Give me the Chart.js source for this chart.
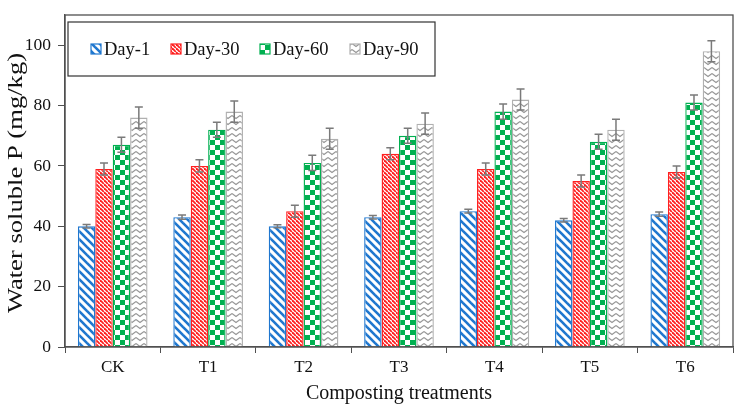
<!DOCTYPE html>
<html lang="en">
<head>
<meta charset="UTF-8" />
<title>Water soluble P</title>
<script src="https://cdn.jsdelivr.net/npm/chart.js"></script>
<style>
  body { margin: 0; background: #ffffff; }
  #wrap { width: 747px; height: 415px; }
</style>
</head>
<body>
<div id="wrap"><canvas id="chart" width="747" height="415"></canvas></div>
<script>
const treatments = ['CK', 'T1', 'T2', 'T3', 'T4', 'T5', 'T6'];
const seriesNames = ['Day-1', 'Day-30', 'Day-60', 'Day-90'];
const day1 = [40, 43, 40, 43, 45, 42, 44];
const day30 = [59, 60, 45, 64, 59, 55, 58];
const day60 = [67, 72, 61, 70, 78, 68, 81];
const day90 = [76, 78, 69, 74, 82, 72, 98];
const day1Err = [0.6, 0.7, 0.5, 0.6, 0.6, 0.6, 0.7];
const day30Err = [2, 2, 2, 2, 2, 2, 2];
const day60Err = [2.5, 2.5, 2.5, 2.5, 2.5, 2.5, 2.5];
const day90Err = [3.5, 3.5, 3.5, 3.5, 3.5, 3.5, 3.5];
const yTicks = [0, 20, 40, 60, 80, 100];
const yTitle = 'Water soluble P (mg/kg)';

const serif = '"Liberation Serif", "Times New Roman", serif';

// fill patterns
function makeTile(w, h, draw) {
  const c = document.createElement('canvas');
  c.width = w; c.height = h;
  const g = c.getContext('2d');
  g.fillStyle = '#fff';
  g.fillRect(0, 0, w, h);
  draw(g);
  return document.getElementById('chart').getContext('2d').createPattern(c, 'repeat');
}
function stripes(color, p, lw) {
  return makeTile(p, p, g => {
    g.strokeStyle = color;
    g.lineWidth = lw;
    for (let x0 = -p; x0 <= p; x0 += p) {
      g.beginPath();
      g.moveTo(x0 - 1, -1);
      g.lineTo(x0 + p + 1, p + 1);
      g.stroke();
    }
  });
}
function checker(color, s) {
  return makeTile(s * 2, s * 2, g => {
    g.fillStyle = color;
    g.fillRect(0, 0, s, s);
    g.fillRect(s, s, s, s);
  });
}
function zigzag(color) {
  return makeTile(8, 6, g => {
    g.strokeStyle = color;
    g.lineWidth = 1.1;
    g.beginPath();
    g.moveTo(0, 1.5);
    g.lineTo(4, 4.5);
    g.lineTo(8, 1.5);
    g.stroke();
  });
}

const colors = ['#1f77cf', '#ff2020', '#00b050', '#b0b0b0'];
const fills = [
  stripes('#1f77cf', 8, 2.6),
  stripes('#ff2020', 4.5, 1.8),
  checker('#00b050', 5),
  zigzag('#969696')
];
const values = [day1, day30, day60, day90];
const errors = [day1Err, day30Err, day60Err, day90Err];

const errorBars = {
  id: 'errorBars',
  afterDatasetsDraw(chart) {
    const ctx = chart.ctx;
    const y = chart.scales.y;
    ctx.save();
    ctx.strokeStyle = '#7a7a7a';
    ctx.lineWidth = 1.5;
    chart.data.datasets.forEach((ds, i) => {
      chart.getDatasetMeta(i).data.forEach((bar, j) => {
        const v = ds.data[j], e = errors[i][j];
        const top = y.getPixelForValue(v + e);
        const bot = y.getPixelForValue(v - e);
        ctx.beginPath();
        ctx.moveTo(bar.x, top); ctx.lineTo(bar.x, bot);
        ctx.moveTo(bar.x - 4, top); ctx.lineTo(bar.x + 4, top);
        ctx.moveTo(bar.x - 4, bot); ctx.lineTo(bar.x + 4, bot);
        ctx.stroke();
      });
    });
    ctx.restore();
  }
};

const frameAndLegend = {
  id: 'frameAndLegend',
  afterDraw(chart) {
    const ctx = chart.ctx;
    const a = chart.chartArea;
    ctx.save();
    ctx.strokeStyle = '#505050';
    ctx.lineWidth = 1.3;
    ctx.strokeRect(a.left, a.top, a.right - a.left, a.bottom - a.top);

    // legend box
    const lx = a.left + 3, ly = a.top + 7;
    ctx.strokeStyle = '#333';
    ctx.lineWidth = 1.2;
    ctx.fillStyle = '#fff';
    ctx.fillRect(lx, ly, 367, 54);
    ctx.strokeRect(lx, ly, 367, 54);
    const itemX = [23, 103, 192, 282];
    ctx.font = '18.5px ' + serif;
    ctx.textBaseline = 'middle';
    seriesNames.forEach((name, i) => {
      const bx = lx + itemX[i];
      const by = ly + 22;
      ctx.fillStyle = fills[i];
      ctx.fillRect(bx, by, 10, 10);
      ctx.strokeStyle = colors[i];
      ctx.lineWidth = 1.2;
      ctx.strokeRect(bx, by, 10, 10);
      ctx.fillStyle = '#111';
      ctx.fillText(name, bx + 13, by + 6);
    });

    // y-axis title, stretched lengthwise like the original figure
    ctx.translate(17, (a.top + a.bottom) / 2 + 2);
    ctx.rotate(-Math.PI / 2);
    ctx.scale(1.33, 1);
    ctx.font = '20px ' + serif;
    ctx.textAlign = 'center';
    ctx.textBaseline = 'middle';
    ctx.fillStyle = '#111';
    ctx.fillText(yTitle, 0, 0);
    ctx.restore();
  }
};

new Chart(document.getElementById('chart'), {
  type: 'bar',
  data: {
    labels: treatments,
    datasets: seriesNames.map((name, i) => ({
      label: name,
      data: values[i],
      backgroundColor: fills[i],
      borderColor: colors[i],
      borderWidth: 1.4,
      categoryPercentage: 0.73,
      barPercentage: 1
    }))
  },
  options: {
    responsive: false,
    animation: false,
    layout: { padding: { top: 15, right: 14, left: 0, bottom: 0 } },
    plugins: { legend: { display: false }, tooltip: { enabled: false } },
    scales: {
      x: {
        grid: { drawOnChartArea: false, drawTicks: true, tickLength: 6, color: '#505050', offset: true },
        border: { color: '#505050', width: 1.3 },
        ticks: { color: '#111', font: { family: serif, size: 17 }, padding: 4 },
        title: { display: true, text: 'Composting treatments', color: '#111', font: { family: serif, size: 20 }, padding: { top: 4, bottom: 9 } },
        afterFit(scale) { scale.height = 68; }
      },
      y: {
        min: 0,
        max: 110,
        afterBuildTicks(scale) { scale.ticks = yTicks.map(v => ({ value: v })); },
        grid: { drawOnChartArea: false, drawTicks: true, tickLength: 7, color: '#505050' },
        border: { color: '#505050', width: 1.3 },
        ticks: { color: '#111', font: { family: serif, size: 17.5 }, padding: 7 },
        title: { display: false },
        afterFit(scale) {
          scale.width = 65;
          scale.paddingTop = 0;
          scale.paddingBottom = 0;
        }
      }
    }
  },
  plugins: [errorBars, frameAndLegend]
});
</script>
</body>
</html>
